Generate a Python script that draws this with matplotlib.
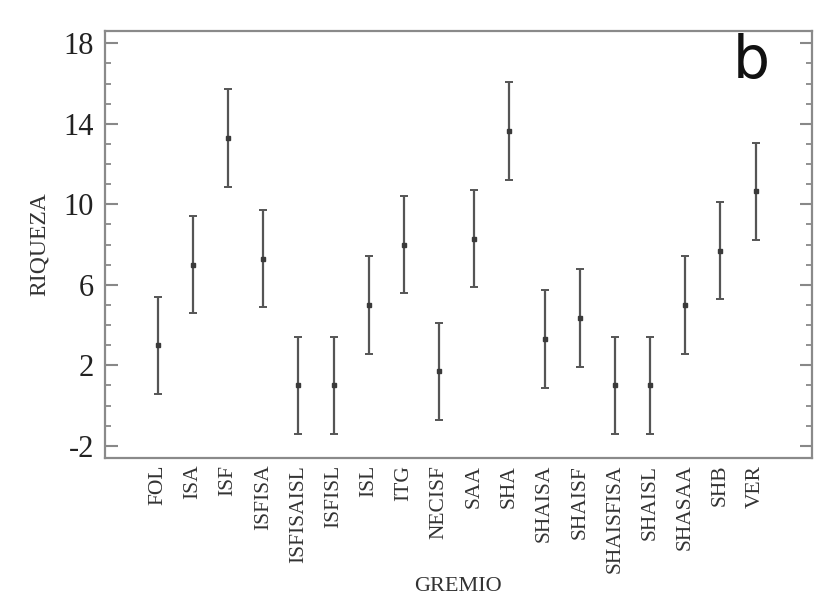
import matplotlib
matplotlib.use('Agg')
from matplotlib import pyplot as plt
from matplotlib.ticker import MultipleLocator

gremios = ['FOL', 'ISA', 'ISF', 'ISFISA', 'ISFISAISL', 'ISFISL', 'ISL', 'ITG',
           'NECISF', 'SAA', 'SHA', 'SHAISA', 'SHAISF', 'SHAISFISA', 'SHAISL',
           'SHASAA', 'SHB', 'VER']
riqueza = [3.0, 7.0, 13.3, 7.3, 1.0, 1.0, 5.0, 8.0,
           1.7, 8.3, 13.65, 3.3, 4.35, 1.0, 1.0,
           5.0, 7.7, 10.65]
error = [2.42] * len(gremios)

plt.rcParams['font.family'] = ['Liberation Serif', 'DejaVu Serif']

fig = plt.figure(figsize=(8.2, 6.13), dpi=100)
ax = fig.add_axes([0.128, 0.253, 0.862, 0.696])

x = list(range(len(gremios)))
ax.errorbar(x, riqueza, yerr=error, fmt='s', color='#3a3a3a', ecolor='#555555',
            markersize=3.5, elinewidth=1.6, capsize=3, capthick=1.4)

ax.set_xlim(-1.5, 18.6)
ax.set_ylim(-2.6, 18.6)
ax.set_xticks(x)
ax.set_xticklabels(gremios, rotation=90, fontsize=15.5, color='#333333')
ax.set_yticks([-2, 2, 6, 10, 14, 18])
ax.set_yticklabels(['-2', '2', '6', '10', '14', '18'], fontsize=22, color='#222222')
ax.yaxis.set_minor_locator(MultipleLocator(1))

ax.tick_params(axis='x', length=0, pad=5)
ax.tick_params(axis='y', which='major', direction='in', length=9, width=1.5,
               color='#888888', left=True, right=True, pad=8)
ax.tick_params(axis='y', which='minor', direction='in', length=4.5, width=1.3,
               color='#888888', left=True, right=True)

for s in ax.spines.values():
    s.set_color('#8a8a8a')
    s.set_linewidth(1.6)

ax.set_ylabel('RIQUEZA', fontsize=17, color='#333333', labelpad=10)
ax.set_xlabel('GREMIO', fontsize=16, color='#333333', labelpad=3)

ax.text(0.915, 0.995, 'b', transform=ax.transAxes, fontsize=42,
        family='DejaVu Sans', ha='center', va='top', color='#111111')

plt.savefig('out.png', dpi=100)
